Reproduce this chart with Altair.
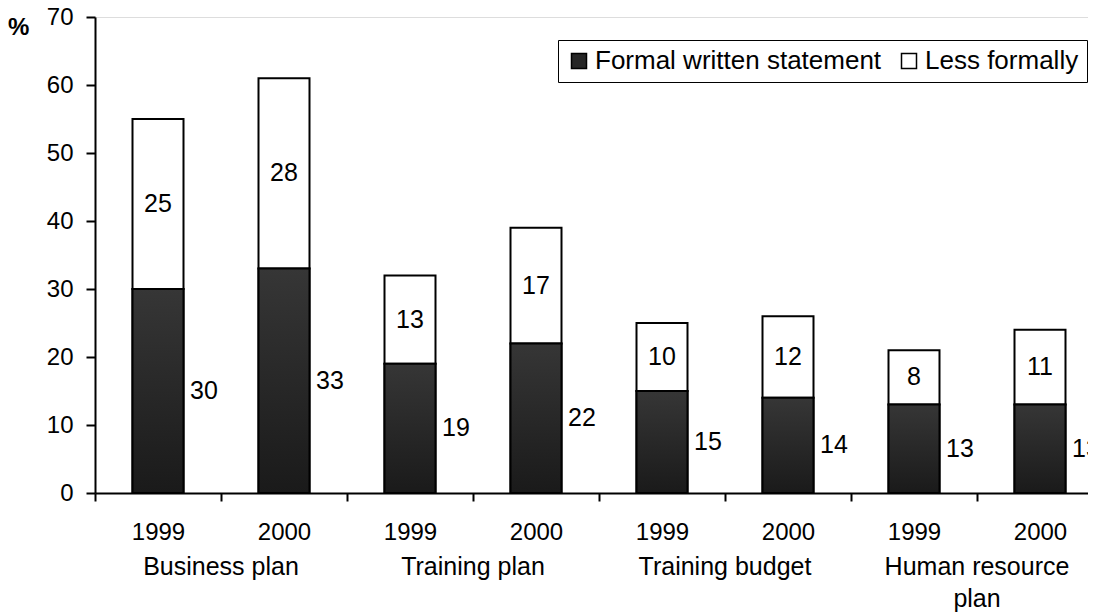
import altair as alt
import pandas as pd

categories = ["Business plan", "Training plan", "Training budget", "Human resource plan"]
category_labels = ["Business plan", "Training plan", "Training budget", "Human resource|plan"]
years = ["1999", "2000"]
series = ["Formal written statement", "Less formally"]
formal = [30, 33, 19, 22, 15, 14, 13, 13]
less = [25, 28, 13, 17, 10, 12, 8, 11]

FONT = "Liberation Sans"

keys, wide_rows, long_rows = [], [], []
for i, cat in enumerate(categories):
    for j, yr in enumerate(years):
        k = i * 2 + j
        key = f"{cat}|{yr}"
        keys.append(key)
        wide_rows.append({"key": key, "formal": formal[k], "less": less[k]})
        long_rows.append({"key": key, "series": series[0], "order": 0, "value": formal[k]})
        long_rows.append({"key": key, "series": series[1], "order": 1, "value": less[k]})
wide = pd.DataFrame(wide_rows)
long = pd.DataFrame(long_rows)
cat_df = pd.DataFrame({"key": [f"{c}|2000" for c in categories], "label": category_labels})
pct_df = pd.DataFrame({"t": ["%"]})

x_enc = alt.X(
    "key:N", sort=keys,
    scale=alt.Scale(paddingInner=0, paddingOuter=0),
    axis=alt.Axis(title=None, labelExpr="split(datum.label, '|')[1]", tickBand="extent",
                  tickSize=8, tickWidth=2, tickColor="black", domainColor="black", domainWidth=2,
                  labelFontSize=24, labelFont=FONT, labelColor="black", labelPadding=19, labelAngle=0),
)
y_scale = alt.Scale(domain=[0, 70], nice=False)

bars = alt.Chart(long).mark_bar(width=51, stroke="black", strokeWidth=2).encode(
    x=x_enc,
    y=alt.Y("value:Q", stack="zero", scale=y_scale,
            axis=alt.Axis(title=None, values=list(range(0, 71, 10)), grid=False, tickSize=9, tickWidth=2,
                          tickColor="black", domainColor="black", domainWidth=2, labelFontSize=24,
                          labelFont=FONT, labelColor="black", labelPadding=13)),
    color=alt.Color("series:N", sort=series,
                    scale=alt.Scale(domain=series, range=["#262626", "white"]),
                    legend=alt.Legend(title=None, orient="none", legendX=463, legendY=23,
                                      direction="horizontal", strokeColor="black", fillColor="white",
                                      padding=8, symbolType="square", symbolSize=225,
                                      symbolStrokeColor="black", symbolStrokeWidth=1.5,
                                      labelFontSize=26, labelFont=FONT, labelColor="black",
                                      labelLimit=0, columnPadding=14, labelOffset=3)),
    order=alt.Order("order:Q"),
)

grad = alt.LinearGradient(gradient="linear",
                          stops=[alt.GradientStop(color="#363636", offset=0),
                                 alt.GradientStop(color="#1a1a1a", offset=1)],
                          x1=0, x2=0, y1=0, y2=1)
dark = alt.Chart(wide).mark_bar(width=51, stroke="black", strokeWidth=2, color=grad).encode(
    x=alt.X("key:N", sort=keys), y=alt.Y("formal:Q", scale=y_scale)
)

less_lbl = alt.Chart(wide).transform_calculate(mid="datum.formal + datum.less / 2").mark_text(
    fontSize=25, font=FONT, color="black", baseline="middle"
).encode(x=alt.X("key:N", sort=keys), y=alt.Y("mid:Q", scale=y_scale), text="less:Q")

formal_lbl = alt.Chart(wide).transform_calculate(mid="datum.formal / 2").mark_text(
    fontSize=25, font=FONT, color="black", baseline="middle", dx=46
).encode(x=alt.X("key:N", sort=keys), y=alt.Y("mid:Q", scale=y_scale), text="formal:Q")

cat_lbl = alt.Chart(cat_df).mark_text(
    fontSize=25, font=FONT, color="black", baseline="alphabetic", lineBreak="|", lineHeight=32
).encode(x=alt.X("key:N", sort=keys, bandPosition=0), y=alt.value(558), text="label:N")

pct = alt.Chart(pct_df).mark_text(
    fontSize=24, font=FONT, fontWeight="bold", color="black", align="left", baseline="middle"
).encode(x=alt.value(-87), y=alt.value(11), text="t:N")

chart = alt.layer(bars, dark, less_lbl, formal_lbl, cat_lbl, pct).properties(
    width=1008, height=476,
    autosize=alt.AutoSizeParams(type="none"),
    padding={"left": 87, "top": 9, "right": -15, "bottom": 119},
).configure_view(stroke="#8c8c8c", strokeWidth=1.5).configure(background="white")

chart.save("out.html", embed_options={"renderer": "svg", "actions": False})
